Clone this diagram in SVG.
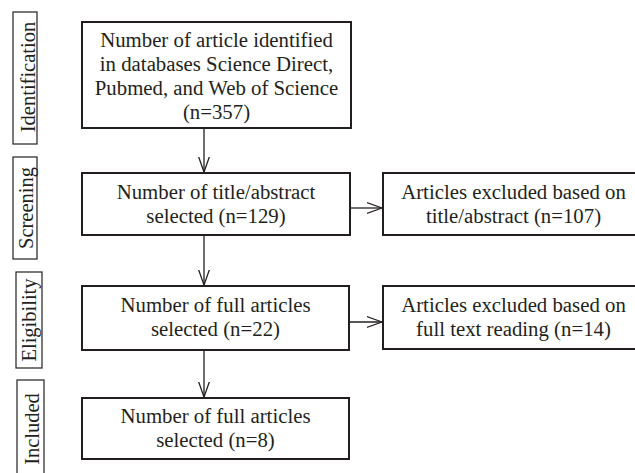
<svg xmlns="http://www.w3.org/2000/svg" width="635" height="473" viewBox="0 0 635 473">
<style>
  text { font-family: "Liberation Serif", "Times New Roman", serif; font-size: 20.8px; fill: #231f20; text-anchor: middle; }
  .lt { font-size: 20.5px; }
  .box { fill: #ffffff; stroke: #231f20; stroke-width: 2; }
  .lab { fill: #ffffff; stroke: #231f20; stroke-width: 1.2; }
  .conn { fill: none; stroke: #231f20; stroke-width: 1.3; }
</style>
<defs>
  <marker id="arr" viewBox="0 0 16 12" refX="15.5" refY="6" markerWidth="16" markerHeight="12" markerUnits="userSpaceOnUse" orient="auto">
    <path d="M0,0.5 L15.5,6 L0,11.5" fill="none" stroke="#231f20" stroke-width="1.3"/>
  </marker>
</defs>
<rect width="635" height="473" fill="#ffffff"/>

<g id="label-identification">
  <rect class="lab" x="13" y="12" width="24" height="132"/>
  <text class="lt" transform="translate(34.5,77) rotate(-90)">Identification</text>
</g>
<g id="label-screening">
  <rect class="lab" x="13" y="157" width="24" height="102"/>
  <text class="lt" transform="translate(32.5,208) rotate(-90)">Screening</text>
</g>
<g id="label-eligibility">
  <rect class="lab" x="16" y="272" width="26" height="96"/>
  <text class="lt" transform="translate(36,320) rotate(-90)">Eligibility</text>
</g>
<g id="label-included">
  <rect class="lab" x="17" y="380" width="27" height="100"/>
  <text class="lt" transform="translate(38.5,429) rotate(-90)">Included</text>
</g>

<g id="node-identified">
  <rect class="box" x="82" y="22" width="269" height="106"/>
  <text x="216.5" y="47">Number of article identified</text>
  <text x="216.5" y="71">in databases Science Direct,</text>
  <text x="216.5" y="95">Pubmed, and Web of Science</text>
  <text x="216.5" y="119">(n=357)</text>
</g>
<g id="node-screened">
  <rect class="box" x="82" y="173" width="268" height="62"/>
  <text x="216" y="198.5">Number of title/abstract</text>
  <text x="216" y="222.5">selected (n=129)</text>
</g>
<g id="node-excluded1">
  <rect class="box" x="383" y="173" width="261" height="62"/>
  <text x="513.5" y="198.5">Articles excluded based on</text>
  <text x="513.5" y="222.5">title/abstract (n=107)</text>
</g>
<g id="node-eligible">
  <rect class="box" x="82" y="286" width="267" height="64"/>
  <text x="215.5" y="312">Number of full articles</text>
  <text x="215.5" y="336">selected (n=22)</text>
</g>
<g id="node-excluded2">
  <rect class="box" x="383" y="286" width="261" height="63"/>
  <text x="513.5" y="311.5">Articles excluded based on</text>
  <text x="513.5" y="335.5">full text reading (n=14)</text>
</g>
<g id="node-included">
  <rect class="box" x="82" y="398" width="267" height="61"/>
  <text x="215.5" y="422.5">Number of full articles</text>
  <text x="215.5" y="446.5">selected (n=8)</text>
</g>

<g id="connectors">
  <line class="conn" x1="204" y1="128" x2="204" y2="172" marker-end="url(#arr)"/>
  <line class="conn" x1="204" y1="235" x2="204" y2="285" marker-end="url(#arr)"/>
  <line class="conn" x1="204" y1="350" x2="204" y2="397" marker-end="url(#arr)"/>
  <line class="conn" x1="350" y1="208" x2="382" y2="208" marker-end="url(#arr)"/>
  <line class="conn" x1="349" y1="322" x2="382" y2="322" marker-end="url(#arr)"/>
</g>
</svg>
